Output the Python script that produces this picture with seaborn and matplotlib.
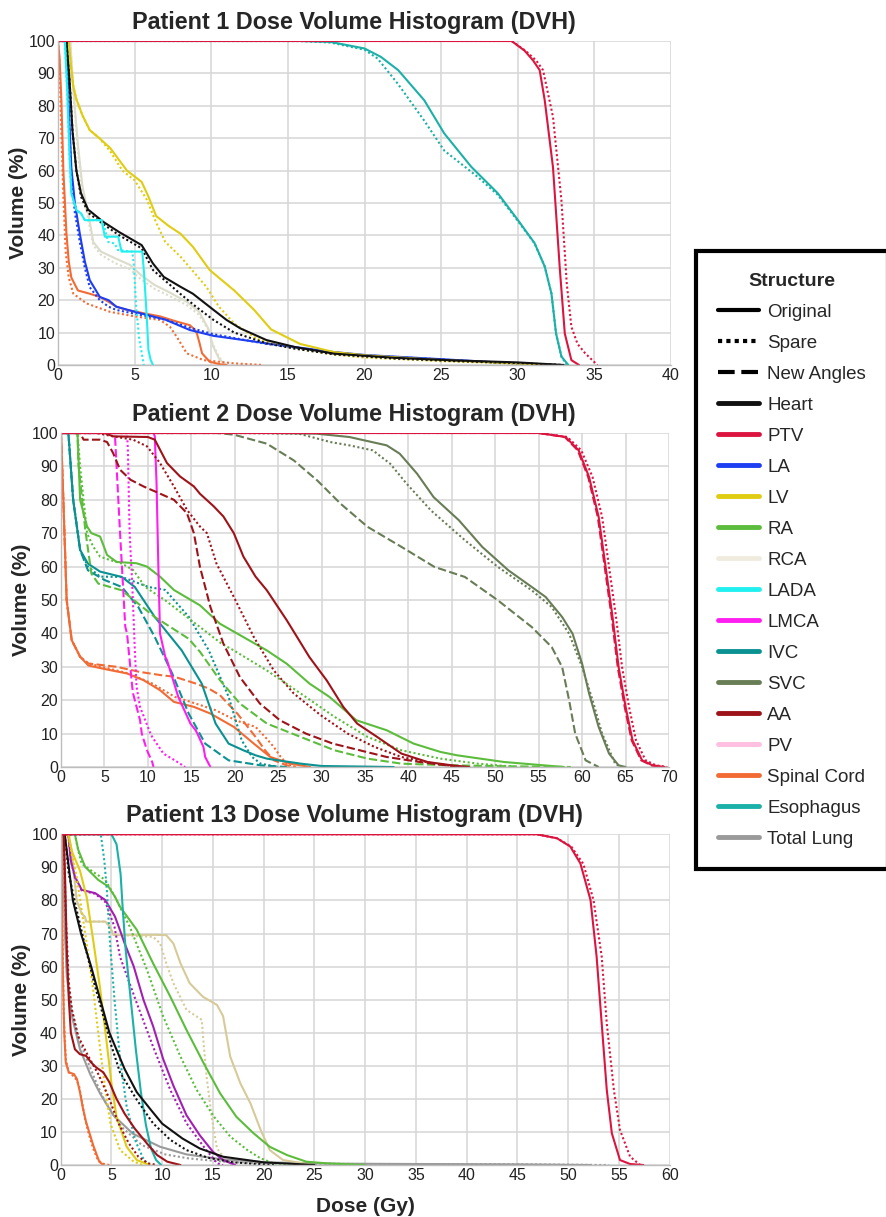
import matplotlib
matplotlib.use("Agg")
import matplotlib.pyplot as plt
import pandas as pd
import seaborn as sns
from matplotlib.lines import Line2D

# ---------------- Patient 1 ----------------
p1_heart_orig_d = [0, 0.55, 0.75, 0.95, 1.2, 1.5, 1.96, 2.95, 4.0, 5.46, 6.2, 6.9, 7.97, 8.8, 10.15, 11.0, 11.9, 13.6, 15.5, 18, 22, 26, 30, 33]
p1_heart_orig_v = [100, 100, 88, 72, 60, 53, 48, 44.2, 41, 37, 31.3, 27.2, 24.2, 22, 17, 13.9, 11.3, 7.7, 5.5, 3.5, 2.2, 1.4, 0.8, 0]
p1_heart_spare_d = [0, 0.55, 0.75, 0.95, 1.2, 1.5, 1.96, 2.95, 4.0, 5.46, 6.2, 7.97, 9.0, 10.15, 11.5, 13.6, 15.5, 18, 22, 26, 30, 33]
p1_heart_spare_v = [100, 100, 88, 72, 60, 52, 47, 43.5, 40, 36, 29.3, 22, 18, 13.9, 10, 6.7, 5, 3.3, 2, 1.2, 0.6, 0]
p1_ptv_orig_d = [0, 29.6, 30.45, 31.0, 31.43, 31.76, 32.3, 32.74, 33.07, 33.5, 34.0]
p1_ptv_orig_v = [100, 100, 97, 94, 91, 81.7, 61, 30, 9.7, 1.5, 0]
p1_ptv_spare_d = [0, 29.6, 30.5, 31.2, 31.65, 32.3, 32.85, 33.2, 33.5, 33.9, 34.4, 35.2]
p1_ptv_spare_v = [100, 100, 97, 94, 91, 76.6, 50.8, 25, 11.8, 6.5, 3.6, 0]
p1_la_orig_d = [0, 0.55, 0.7, 0.87, 1.1, 1.42, 1.75, 2.07, 2.73, 3.3, 3.8, 5.35, 7.0, 8.6, 10.15, 13.6, 17.8, 20, 25, 28.7, 32.6]
p1_la_orig_v = [100, 100, 80, 61, 50, 40.6, 32, 26.2, 21, 20, 18, 16, 14, 10.8, 9, 6.7, 4.1, 3.1, 1.8, 0.8, 0]
p1_la_spare_d = [0, 0.55, 0.7, 0.87, 1.1, 1.42, 1.75, 2.07, 2.73, 3.3, 3.8, 5.35, 7.0, 8.6, 10.15, 13.6, 17.8, 20, 25, 28.7, 32.4]
p1_la_spare_v = [100, 100, 78, 58, 47, 38, 30, 24, 20, 18, 17, 15.5, 14, 11.5, 9.5, 6.5, 4, 3, 1.7, 0.7, 0]
p1_lv_orig_d = [0, 0.7, 0.85, 1.0, 1.2, 1.6, 2.07, 2.7, 3.4, 4.5, 5.46, 5.9, 6.4, 7.2, 8.0, 8.8, 9.9, 11.5, 12.8, 13.9, 15.8, 18, 20, 25, 30, 32.5]
p1_lv_orig_v = [100, 100, 92, 86, 82, 77, 72.5, 70, 67, 60, 56.5, 52, 46, 43, 40.5, 36.5, 29.3, 23, 17, 11, 6.5, 4, 3, 1.5, 0.5, 0]
p1_lv_spare_d = [0, 0.7, 0.85, 1.0, 1.2, 1.6, 2.07, 2.7, 3.4, 4.2, 5.0, 5.4, 5.8, 6.4, 7.0, 8.0, 8.8, 9.7, 10.5, 11.5, 13, 15, 18, 20, 25, 30, 32.5]
p1_lv_spare_v = [100, 100, 92, 86, 82, 77, 72.5, 70, 66, 60, 57, 54, 51, 44, 38, 33.4, 29, 24, 18, 12.8, 8, 5.5, 3.2, 2.3, 1.2, 0.4, 0]
p1_rca_orig_d = [0, 0.8, 1.0, 1.3, 1.6, 1.97, 2.3, 2.8, 3.7, 4.7, 5.4, 6.3, 7.2, 8.4, 9.2, 9.8, 10.1, 10.5, 10.8, 11.0]
p1_rca_orig_v = [100, 100, 85, 68, 55, 47, 38, 35, 33, 30.9, 27.8, 24.7, 22.6, 19.5, 16.5, 11.3, 6, 2, 0.5, 0]
p1_rca_spare_d = [0, 0.8, 1.0, 1.3, 1.6, 1.97, 2.3, 2.8, 3.7, 4.7, 5.4, 6.3, 7.2, 8.4, 9.2, 9.8, 10.1, 10.5, 10.8, 11.0]
p1_rca_spare_v = [100, 100, 84, 66, 53, 45, 37, 34, 31.5, 29.5, 26.5, 23.5, 21.5, 18.5, 15.5, 11, 6.5, 2.5, 0.8, 0]
p1_lada_orig_d = [0, 0.45, 0.6, 0.75, 0.87, 1.2, 1.5, 1.75, 2.84, 3.06, 3.93, 4.15, 5.5, 5.62, 5.79, 5.9, 6.05, 6.2]
p1_lada_orig_v = [100, 100, 85, 65, 53, 47.8, 46.8, 44.7, 44.7, 39.6, 39.6, 35, 35, 28, 15, 4.6, 1.5, 0]
p1_lada_spare_d = [0, 0.45, 0.6, 0.75, 0.87, 1.2, 1.5, 1.75, 2.84, 3.06, 3.27, 3.7, 3.9, 4.85, 4.95, 5.1, 5.3, 5.6]
p1_lada_spare_v = [100, 100, 85, 65, 53, 47.8, 46.8, 44.7, 44.7, 42, 38, 37.5, 35.5, 35, 31, 18, 8, 0]
p1_cord_orig_d = [0, 0.1, 0.22, 0.35, 0.55, 0.7, 0.87, 1.3, 2.07, 2.73, 3.3, 3.8, 4.5, 5.57, 6.66, 7.75, 8.6, 8.9, 9.06, 9.25, 9.4, 9.9, 10.6, 11.0]
p1_cord_orig_v = [100, 95, 81.7, 60, 40.6, 32, 27, 23, 22, 21, 19.5, 18, 17, 16, 15, 13.4, 12.3, 11, 9.8, 6.5, 3.6, 1, 0.2, 0]
p1_cord_spare_d = [0, 0.1, 0.2, 0.35, 0.5, 0.7, 1.0, 1.86, 3.4, 5.0, 6.66, 7.3, 7.75, 8.4, 9.5, 11.5, 13.4]
p1_cord_spare_v = [100, 93, 75, 52, 35, 27, 22, 19, 16.4, 15, 13.9, 11.8, 8.7, 3.6, 1.5, 0.5, 0]
p1_eso_orig_d = [0, 15.8, 17.8, 20, 21.07, 22.2, 23.9, 25.2, 26.96, 28.7, 30.0, 31.1, 31.76, 32.2, 32.5, 32.85, 33.3]
p1_eso_orig_v = [100, 100, 99.7, 97.7, 95.1, 91, 81.7, 71.5, 61.2, 53, 44.8, 37.6, 30.4, 22, 9.7, 2.6, 0]
p1_eso_spare_d = [0, 15.8, 17.8, 20, 20.85, 22.16, 23.9, 25.2, 27.4, 28.7, 30.0, 31.1, 31.76, 32.2, 32.5, 32.85, 33.2]
p1_eso_spare_v = [100, 100, 99.5, 97.3, 94.6, 86.9, 75.4, 66.2, 58, 52.5, 44.5, 37.5, 30.4, 22, 9.7, 2.6, 0]

# ---------------- Patient 2 ----------------
p2_ptv_orig_d = [0, 55, 58.1, 59.6, 60.8, 61.9, 62.7, 63.5, 64.2, 65, 65.8, 66.9, 68.1, 69.5]
p2_ptv_orig_v = [100, 100, 98.8, 94.8, 86.8, 74.9, 59.9, 44.9, 29.9, 18, 8, 2, 0.5, 0]
p2_ptv_spare_d = [0, 55, 58.3, 59.9, 61.2, 62.3, 63.1, 63.9, 64.6, 65.4, 66.2, 67.3, 68.5, 69.8]
p2_ptv_spare_v = [100, 100, 98.8, 94.8, 86.8, 74.9, 59.9, 44.9, 29.9, 18, 8, 2, 0.5, 0]
p2_ptv_new_d = [0, 55, 58.0, 59.5, 60.7, 61.8, 62.6, 63.4, 64.1, 64.9, 65.7, 66.8, 68.0, 69.0]
p2_ptv_new_v = [100, 100, 98.8, 94.8, 86.8, 74.9, 59.9, 44.9, 29.9, 18, 8, 2, 0.5, 0]
p2_svc_orig_d = [0, 24, 29.4, 33.2, 37.5, 39.0, 41.0, 42.9, 45.8, 48.5, 51.5, 54.2, 55.8, 57.7, 58.9, 60, 60.8, 61.9, 63.1, 64.2, 65]
p2_svc_orig_v = [100, 100, 99.8, 98.8, 96.3, 93.8, 87.8, 80.8, 73.9, 65.9, 58.9, 53.9, 50.9, 44.9, 39.9, 30.9, 22, 12, 4, 0.5, 0]
p2_svc_spare_d = [0, 20, 27.4, 31, 33.2, 35.9, 37.9, 39.8, 42.6, 46.5, 50.3, 54.2, 56.5, 58.5, 60, 61.2, 62.3, 63.8, 64.5]
p2_svc_spare_v = [100, 100, 99.8, 97.3, 96.3, 94.8, 90.8, 84.8, 76.8, 67.9, 59.9, 52.9, 47.9, 39.9, 29.9, 20, 10, 1, 0]
p2_svc_new_d = [0, 18, 19.9, 23.7, 26.8, 29.5, 32.2, 35.3, 39.2, 43, 46.5, 50.3, 54.2, 56.5, 57.7, 58.5, 59.2, 60.4, 61.9]
p2_svc_new_v = [100, 100, 99.5, 96.8, 91.8, 85.8, 78.8, 71.9, 65.9, 59.9, 56.9, 49.9, 41.9, 35.9, 29.9, 20, 10, 2, 0]
p2_aa_orig_d = [0, 5.0, 6.0, 10.0, 10.8, 11.0, 12.2, 13.7, 15.3, 16.0, 17.6, 18.7, 19.9, 21.0, 22.4, 23.7, 26, 28.6, 30.6, 32.5, 34.1, 36.4, 39.2, 42.2, 45, 47]
p2_aa_orig_v = [100, 100, 99, 98.8, 98, 97, 91, 87, 84, 81.8, 78, 75, 70, 63, 57, 52.9, 43.9, 32.9, 25.9, 18, 13, 9, 4, 1.5, 0.5, 0]
p2_aa_spare_d = [0, 4.1, 6.0, 8.3, 9.9, 11.4, 13.0, 14.5, 16.0, 16.8, 17.9, 19.9, 22.2, 24.5, 26.8, 29.9, 33, 36.1, 39.2, 43, 46]
p2_aa_spare_v = [100, 100, 99, 98, 96, 91, 84, 77, 72, 70, 60.9, 50.9, 38.9, 28.9, 22, 15.5, 10, 6, 3, 1, 0]
p2_aa_new_d = [0, 2.2, 2.6, 4.5, 5.3, 6.0, 6.8, 8.0, 9.5, 11.0, 13.0, 14.5, 15.3, 16.0, 17.2, 18.7, 20.6, 22.9, 25.2, 28.2, 31.3, 34.4, 37.5, 41.3, 46]
p2_aa_new_v = [100, 100, 98, 98, 97.3, 94, 89, 86, 84, 82.3, 80, 76, 70, 59.9, 47.9, 36.9, 26.9, 19, 14, 10, 7, 5, 3, 1.5, 0]
p2_ra_orig_d = [0, 1.9, 2.2, 3.0, 3.5, 4.5, 5.3, 6.4, 8.7, 9.9, 11.4, 13.0, 16.0, 18.3, 21, 23.7, 26, 28.6, 30.9, 32.9, 34, 37.5, 40.6, 43.7, 45.6, 51, 57.9]
p2_ra_orig_v = [100, 100, 80, 72, 70, 69, 63.5, 61.4, 61, 60, 57, 53, 48.4, 42.9, 38.9, 34.9, 30.9, 25, 21, 16.5, 14, 11, 7, 4.5, 3.5, 1.5, 0]
p2_ra_spare_d = [0, 1.9, 2.2, 3.0, 3.7, 4.5, 5.6, 7.0, 8.3, 9.7, 12.0, 15.5, 18.5, 19.9, 23.7, 27.6, 31.5, 35.3, 39.2, 43.7, 48, 52.6]
p2_ra_spare_v = [100, 100, 90, 70, 66, 63, 62, 60.9, 59, 53.9, 49.9, 42.9, 36.9, 34.9, 28.9, 22, 15, 9, 5, 2.5, 1, 0]
p2_ra_new_d = [0, 1.9, 2.0, 2.8, 3.5, 4.3, 7.0, 8.9, 10.8, 14.7, 16.0, 18.3, 20.6, 23.7, 27.6, 31.5, 35.3, 39.2, 45, 52, 58.7]
p2_ra_new_v = [100, 100, 90.8, 70.9, 57.9, 54.9, 52.9, 48.9, 44.9, 38.4, 34.5, 26, 19, 13, 9, 5, 2.5, 1, 0.5, 0.2, 0]
p2_ivc_orig_d = [0, 0.85, 1.4, 2.2, 3.1, 4.5, 7.0, 8.5, 10.8, 13.9, 16.2, 17.8, 19.3, 21, 22.4, 23.7, 27.6, 30, 38.3]
p2_ivc_orig_v = [100, 100, 80, 65, 60.9, 58.5, 56.9, 53.9, 44.9, 34.9, 25, 13, 7, 5, 3.5, 2.5, 1, 0.3, 0]
p2_ivc_spare_d = [0, 0.85, 1.4, 2.2, 3.1, 4.5, 7.0, 10.07, 12, 14.7, 17, 19.3, 20.8, 22, 23, 25]
p2_ivc_spare_v = [100, 100, 80, 65, 60, 57, 56.9, 53.9, 53, 45, 35, 21, 8, 3, 1, 0]
p2_ivc_new_d = [0, 0.85, 1.4, 2.2, 3.1, 5.0, 7.0, 8.9, 10.8, 12.8, 14.7, 16.6, 19.3, 23, 26]
p2_ivc_new_v = [100, 100, 80, 65, 58.9, 56, 53.9, 47.9, 38.9, 28, 16, 7, 2, 0.5, 0]
p2_lmca_orig_d = [0, 10.65, 10.8, 11.0, 11.2, 11.4, 12.0, 12.2, 13.5, 14.9, 15.5, 15.7, 16.4, 16.6, 17.2]
p2_lmca_orig_v = [100, 100, 99, 85, 60.9, 40, 33, 32, 21, 13, 11, 10, 6, 3, 0]
p2_lmca_spare_d = [0, 7.6, 7.7, 7.9, 8.2, 8.5, 8.7, 9.1, 10.3, 10.5, 11.8, 13.1, 13.7, 14.3]
p2_lmca_spare_v = [100, 100, 95, 70, 55, 35, 24, 18, 10, 9, 4, 2, 1, 0]
p2_lmca_new_d = [0, 6.2, 6.4, 6.8, 7.4, 7.6, 8.2, 8.3, 9.1, 9.3, 9.9, 10.5, 10.65]
p2_lmca_new_v = [100, 100, 90, 70, 42, 40, 24, 22, 14, 10, 5, 1.5, 0]
p2_cord_orig_d = [0, 0.27, 0.65, 1.23, 2.2, 3.15, 4.9, 7.6, 9.5, 11.4, 13.0, 15.3, 17.2, 19.9, 22.2, 24.1, 26.4, 28.7]
p2_cord_orig_v = [100, 80, 50, 38, 33, 30.4, 29.4, 28, 26, 23, 19.5, 18, 16, 12, 7, 3, 1, 0]
p2_cord_spare_d = [0, 0.27, 0.65, 1.23, 2.2, 3.15, 7.8, 10.5, 13.1, 15.5, 17.8, 20.1, 22.4, 23.5, 24.5, 25.3, 26, 27]
p2_cord_spare_v = [100, 80, 50, 38, 33, 31, 28, 25, 21, 19, 17, 14, 12, 9, 6, 3, 1, 0]
p2_cord_new_d = [0, 0.27, 0.65, 1.23, 2.2, 3.15, 6.4, 9.0, 11.5, 13.1, 15.5, 17.0, 18.3, 20.3, 22.4, 23.5, 24.5, 26, 27]
p2_cord_new_v = [100, 80, 50, 38, 33, 31, 30, 28.5, 27.5, 27, 25, 23.5, 21.5, 16, 9, 5, 2, 0.5, 0]

# ---------------- Patient 13 ----------------
p13_ptv_orig_d = [0, 46.9, 48.9, 50.2, 51.2, 52.2, 52.8, 53.3, 53.8, 54.3, 55.1, 56.1, 57.4]
p13_ptv_orig_v = [100, 100, 98.8, 96.3, 91.2, 80.1, 63, 42.8, 22.7, 9.6, 1.5, 0.3, 0]
p13_ptv_spare_d = [0, 46.9, 48.9, 50.3, 51.5, 52.5, 53.3, 53.8, 54.5, 55.1, 56.1, 57.1]
p13_ptv_spare_v = [100, 100, 98.8, 96.3, 91, 80, 63, 42.8, 22.7, 10.6, 2.5, 0]
p13_eso_orig_d = [0, 5.0, 5.5, 5.9, 6.1, 6.4, 6.9, 7.4, 7.9, 8.4, 8.9, 9.4, 9.9]
p13_eso_orig_v = [100, 100, 97, 88, 78, 65, 50, 35, 22, 12, 5, 1.5, 0]
p13_eso_spare_d = [0, 3.95, 4.3, 4.55, 4.86, 5.3, 5.85, 6.5, 7.4, 8.2, 8.8]
p13_eso_spare_v = [100, 100, 92, 83, 67, 50, 32, 17.6, 7, 1.5, 0]
p13_ra_orig_d = [0, 1.4, 1.73, 2.4, 3.7, 4.7, 5.35, 5.84, 7.5, 9.1, 10.8, 12.4, 14.1, 15.7, 17.3, 19.0, 20.6, 22.3, 24.2, 26.2, 30]
p13_ra_orig_v = [100, 100, 95.3, 90.2, 86.2, 84.2, 81.1, 78.1, 71.1, 61, 50.9, 40.8, 30.7, 21.7, 14.6, 9.6, 5.5, 3, 1, 0.5, 0]
p13_ra_spare_d = [0, 1.4, 1.73, 2.07, 3.4, 4.4, 5.35, 6.0, 6.8, 8.5, 10.1, 11.8, 13.4, 15.1, 16.7, 18.4, 19.7, 21, 24]
p13_ra_spare_v = [100, 100, 95, 91.1, 88.2, 86.2, 81.1, 77, 72.1, 59, 44.9, 32.8, 22.7, 14.6, 8.6, 4.5, 2, 0.5, 0]
p13_purple_orig_d = [0, 0.75, 1.0, 1.4, 2.07, 3.4, 4.4, 5.35, 5.84, 6.3, 7.2, 8.15, 9.1, 10.1, 11.1, 12.4, 13.7, 15.0, 16.0, 17.2]
p13_purple_orig_v = [100, 100, 92, 87.2, 83.2, 82.2, 80.1, 75.1, 71, 67, 60, 50, 42, 32, 24, 15, 9, 4, 1.5, 0]
p13_purple_spare_d = [0, 0.75, 1.0, 1.4, 2.07, 3.4, 4.4, 5.3, 5.84, 7.5, 9.1, 10.8, 12.4, 14.1, 15.4, 16.0]
p13_purple_spare_v = [100, 100, 92, 87, 83, 82, 79.5, 72, 63, 48.9, 35.8, 22.7, 12.6, 5.5, 0.5, 0]
p13_tan_orig_d = [0, 0.8, 1.08, 1.58, 2.07, 2.4, 2.5, 4.4, 4.86, 5.2, 9.3, 10.4, 11.1, 11.8, 12.7, 14.0, 15.4, 16.0, 16.7, 17.7, 18.7, 19.7, 20.6, 21.9, 23.9, 25]
p13_tan_orig_v = [100, 100, 95, 80, 76, 75, 73.6, 73.6, 72, 69.6, 69.6, 69.5, 67, 61, 55, 50.9, 48.4, 45, 32.8, 24.7, 18.6, 10.6, 4.5, 1.5, 0.5, 0]
p13_tan_spare_d = [0, 0.8, 1.08, 1.58, 2.07, 2.4, 2.5, 4.4, 4.86, 5.2, 9.1, 9.8, 10.4, 11.1, 12.4, 13.4, 13.9, 14.1, 14.4, 14.9, 15.4, 16.4, 17]
p13_tan_spare_v = [100, 100, 95, 80, 76, 75, 73.6, 73.6, 72, 69.6, 69, 67, 61, 55, 46.9, 44.9, 43.9, 36, 26, 14, 5, 1, 0]
p13_heart_orig_d = [0, 0.4, 0.8, 1.2, 2.0, 3.0, 3.9, 4.8, 6.3, 7.5, 8.8, 10.0, 12.0, 13.7, 16.0, 20.0, 25]
p13_heart_orig_v = [100, 100, 90, 80, 70, 60, 50, 40, 29, 22, 17, 12.5, 8, 5, 2.5, 0.8, 0]
p13_heart_spare_d = [0, 0.4, 0.8, 1.5, 2.5, 3.3, 4.2, 5.0, 5.84, 7.5, 9.1, 10.8, 12.4, 14.5, 17, 21]
p13_heart_spare_v = [100, 100, 88, 78, 65, 55, 45, 36, 28, 19.7, 12.6, 7.6, 4.5, 2.2, 0.8, 0]
p13_lv_orig_d = [0, 0.75, 1.08, 1.9, 2.56, 3.2, 3.9, 4.5, 5.0, 5.5, 6.5, 7.5, 8.8]
p13_lv_orig_v = [100, 100, 95, 89, 81, 68, 53, 37.8, 24.7, 14.6, 5.5, 1.5, 0]
p13_lv_spare_d = [0, 0.75, 1.08, 1.58, 2.56, 3.2, 3.9, 4.4, 4.9, 5.85, 7.2, 8.1]
p13_lv_spare_v = [100, 100, 94, 87, 67, 53, 34.8, 22.7, 12.6, 4.5, 1, 0]
p13_aa_orig_d = [0, 0.3, 0.45, 0.6, 0.8, 1.0, 1.4, 1.9, 2.5, 3.0, 3.5, 4.2, 4.8, 5.5, 6.3, 7.3, 8.5, 9.5, 10.5, 11.8]
p13_aa_orig_v = [100, 100, 85, 65, 50, 40, 35, 33.5, 33, 31, 29.5, 28, 25, 20, 15.5, 11, 6.5, 3, 1, 0]
p13_aa_spare_d = [0, 0.3, 0.5, 0.8, 1.1, 1.7, 2.7, 3.7, 4.7, 5.7, 6.7, 7.65, 8.6, 9.5]
p13_aa_spare_v = [100, 100, 75, 55, 47, 39, 33, 27.5, 20.7, 12.6, 6.6, 2.5, 0.5, 0]
p13_lung_orig_d = [0, 0.2, 0.4, 0.6, 1.1, 1.9, 2.9, 3.9, 5.2, 7.1, 9.8, 12.4, 15.7, 20.3, 27, 35, 45, 52.2]
p13_lung_orig_v = [100, 100, 72, 57, 45, 35, 27.5, 21.5, 15, 9.5, 5.5, 3.2, 1.8, 0.8, 0.4, 0.3, 0.2, 0]
p13_lung_spare_d = [0, 0.2, 0.4, 0.6, 1.1, 1.9, 2.7, 3.5, 4.4, 6.0, 8.0, 10.3, 12.6, 16, 20, 30, 45, 54]
p13_lung_spare_v = [100, 100, 74, 59, 47, 37, 31, 25, 19, 11.5, 6, 3.2, 2, 1, 0.5, 0.3, 0.2, 0]
p13_cord_orig_d = [0, 0.05, 0.2, 0.35, 0.5, 0.8, 1.3, 1.6, 1.9, 2.2, 2.5, 2.8, 3.2, 3.5, 3.8, 4.2]
p13_cord_orig_v = [100, 100, 60, 40, 31, 28, 27.5, 26, 22, 17, 13, 10, 6, 3.5, 1, 0]
p13_cord_spare_d = [0, 0.05, 0.15, 0.3, 0.5, 0.8, 1.2, 1.5, 1.8, 2.1, 2.4, 2.8, 3.2, 3.6, 4.0, 4.8]
p13_cord_spare_v = [100, 100, 75, 45, 32, 28, 27, 26, 24, 19, 14, 9, 5, 2, 0.5, 0]

patients = ["Patient 1", "Patient 2", "Patient 13"]
x_max = [40, 70, 60]
plans = ["Original", "Spare", "New Angles"]
legend_structures = ["Heart", "PTV", "LA", "LV", "RA", "RCA", "LADA", "LMCA", "IVC", "SVC",
                     "AA", "PV", "Spinal Cord", "Esophagus", "Total Lung"]

palette = {
    "Heart": "#111111", "PTV": "#dc1440", "LA": "#1e3ef2", "LV": "#e0cc12",
    "RA": "#5cbd3c", "RCA": "#dcdccb", "LADA": "#22f0f0", "LMCA": "#ff1ef0",
    "IVC": "#0a9292", "SVC": "#687d56", "AA": "#9e1319", "PV": "#ffbfe0",
    "Spinal Cord": "#f26b35", "Esophagus": "#1bb0a8", "Total Lung": "#9a9a9a",
    "Unlabelled purple": "#a21fb2", "Unlabelled tan": "#d6cb98",
}
legend_colors = dict(palette, RCA="#efebdf")
dash_map = {"Original": "", "Spare": (1, 1.2), "New Angles": (4, 1.6)}

curves = [
    ("Patient 1", "RCA", "Original", p1_rca_orig_d, p1_rca_orig_v),
    ("Patient 1", "RCA", "Spare", p1_rca_spare_d, p1_rca_spare_v),
    ("Patient 1", "Esophagus", "Original", p1_eso_orig_d, p1_eso_orig_v),
    ("Patient 1", "Esophagus", "Spare", p1_eso_spare_d, p1_eso_spare_v),
    ("Patient 1", "Spinal Cord", "Original", p1_cord_orig_d, p1_cord_orig_v),
    ("Patient 1", "Spinal Cord", "Spare", p1_cord_spare_d, p1_cord_spare_v),
    ("Patient 1", "LA", "Original", p1_la_orig_d, p1_la_orig_v),
    ("Patient 1", "LA", "Spare", p1_la_spare_d, p1_la_spare_v),
    ("Patient 1", "LV", "Original", p1_lv_orig_d, p1_lv_orig_v),
    ("Patient 1", "LV", "Spare", p1_lv_spare_d, p1_lv_spare_v),
    ("Patient 1", "Heart", "Original", p1_heart_orig_d, p1_heart_orig_v),
    ("Patient 1", "Heart", "Spare", p1_heart_spare_d, p1_heart_spare_v),
    ("Patient 1", "LADA", "Original", p1_lada_orig_d, p1_lada_orig_v),
    ("Patient 1", "LADA", "Spare", p1_lada_spare_d, p1_lada_spare_v),
    ("Patient 1", "PTV", "Original", p1_ptv_orig_d, p1_ptv_orig_v),
    ("Patient 1", "PTV", "Spare", p1_ptv_spare_d, p1_ptv_spare_v),

    ("Patient 2", "Spinal Cord", "Original", p2_cord_orig_d, p2_cord_orig_v),
    ("Patient 2", "Spinal Cord", "Spare", p2_cord_spare_d, p2_cord_spare_v),
    ("Patient 2", "Spinal Cord", "New Angles", p2_cord_new_d, p2_cord_new_v),
    ("Patient 2", "IVC", "Original", p2_ivc_orig_d, p2_ivc_orig_v),
    ("Patient 2", "IVC", "Spare", p2_ivc_spare_d, p2_ivc_spare_v),
    ("Patient 2", "IVC", "New Angles", p2_ivc_new_d, p2_ivc_new_v),
    ("Patient 2", "RA", "Original", p2_ra_orig_d, p2_ra_orig_v),
    ("Patient 2", "RA", "Spare", p2_ra_spare_d, p2_ra_spare_v),
    ("Patient 2", "RA", "New Angles", p2_ra_new_d, p2_ra_new_v),
    ("Patient 2", "LMCA", "Original", p2_lmca_orig_d, p2_lmca_orig_v),
    ("Patient 2", "LMCA", "Spare", p2_lmca_spare_d, p2_lmca_spare_v),
    ("Patient 2", "LMCA", "New Angles", p2_lmca_new_d, p2_lmca_new_v),
    ("Patient 2", "AA", "Original", p2_aa_orig_d, p2_aa_orig_v),
    ("Patient 2", "AA", "Spare", p2_aa_spare_d, p2_aa_spare_v),
    ("Patient 2", "AA", "New Angles", p2_aa_new_d, p2_aa_new_v),
    ("Patient 2", "SVC", "Original", p2_svc_orig_d, p2_svc_orig_v),
    ("Patient 2", "SVC", "Spare", p2_svc_spare_d, p2_svc_spare_v),
    ("Patient 2", "SVC", "New Angles", p2_svc_new_d, p2_svc_new_v),
    ("Patient 2", "PTV", "Original", p2_ptv_orig_d, p2_ptv_orig_v),
    ("Patient 2", "PTV", "Spare", p2_ptv_spare_d, p2_ptv_spare_v),
    ("Patient 2", "PTV", "New Angles", p2_ptv_new_d, p2_ptv_new_v),

    ("Patient 13", "Total Lung", "Original", p13_lung_orig_d, p13_lung_orig_v),
    ("Patient 13", "Total Lung", "Spare", p13_lung_spare_d, p13_lung_spare_v),
    ("Patient 13", "Unlabelled tan", "Original", p13_tan_orig_d, p13_tan_orig_v),
    ("Patient 13", "Unlabelled tan", "Spare", p13_tan_spare_d, p13_tan_spare_v),
    ("Patient 13", "RA", "Original", p13_ra_orig_d, p13_ra_orig_v),
    ("Patient 13", "RA", "Spare", p13_ra_spare_d, p13_ra_spare_v),
    ("Patient 13", "Unlabelled purple", "Original", p13_purple_orig_d, p13_purple_orig_v),
    ("Patient 13", "Unlabelled purple", "Spare", p13_purple_spare_d, p13_purple_spare_v),
    ("Patient 13", "Esophagus", "Original", p13_eso_orig_d, p13_eso_orig_v),
    ("Patient 13", "Esophagus", "Spare", p13_eso_spare_d, p13_eso_spare_v),
    ("Patient 13", "LV", "Original", p13_lv_orig_d, p13_lv_orig_v),
    ("Patient 13", "LV", "Spare", p13_lv_spare_d, p13_lv_spare_v),
    ("Patient 13", "Heart", "Original", p13_heart_orig_d, p13_heart_orig_v),
    ("Patient 13", "Heart", "Spare", p13_heart_spare_d, p13_heart_spare_v),
    ("Patient 13", "AA", "Original", p13_aa_orig_d, p13_aa_orig_v),
    ("Patient 13", "AA", "Spare", p13_aa_spare_d, p13_aa_spare_v),
    ("Patient 13", "Spinal Cord", "Original", p13_cord_orig_d, p13_cord_orig_v),
    ("Patient 13", "Spinal Cord", "Spare", p13_cord_spare_d, p13_cord_spare_v),
    ("Patient 13", "PTV", "Original", p13_ptv_orig_d, p13_ptv_orig_v),
    ("Patient 13", "PTV", "Spare", p13_ptv_spare_d, p13_ptv_spare_v),
]

rows = []
for k, (pat, struct, plan, d, v) in enumerate(curves):
    for x, y in zip(d, v):
        rows.append({"patient": pat, "structure": struct, "plan": plan,
                     "curve": k, "dose": x, "volume": y})
df = pd.DataFrame(rows)

sns.set_style("white")
plt.rcParams["font.family"] = ["Liberation Sans", "DejaVu Sans"]

fig = plt.figure(figsize=(8.86, 12.17), dpi=100)
W, H = 886.0, 1217.0
boxes = [(58, 671, 41, 365), (61, 669, 433, 767), (60.7, 669.7, 834.3, 1165)]
axes = []
for (l, r, t, b) in boxes:
    axes.append(fig.add_axes([l / W, 1 - b / H, (r - l) / W, (b - t) / H]))

for i, (ax, pat) in enumerate(zip(axes, patients)):
    sub = df[df["patient"] == pat]
    sns.lineplot(data=sub, x="dose", y="volume", hue="structure", style="plan",
                 units="curve", estimator=None, sort=False, palette=palette,
                 dashes=dash_map, linewidth=1.5, legend=False, ax=ax)
    ax.set_xlim(0, x_max[i])
    ax.set_ylim(0, 100)
    ax.set_xticks(range(0, x_max[i] + 1, 5))
    ax.set_yticks(range(0, 101, 10))
    ax.grid(True, color="#d6d6d6", linewidth=1.1)
    ax.set_axisbelow(True)
    ax.tick_params(length=0, labelsize=11.5, pad=2, colors="#222222")
    for s in ["top", "right"]:
        ax.spines[s].set_visible(False)
    for s in ["left", "bottom"]:
        ax.spines[s].set_color("#bdbdbd")
        ax.spines[s].set_linewidth(1.0)
    ax.set_title(f"{pat} Dose Volume Histogram (DVH)", fontsize=16.8,
                 fontweight="bold", pad=8.5, x=0.482)
    ax.set_ylabel("Volume (%)", fontsize=15, fontweight="bold", labelpad=0.5)
    ax.set_xlabel("")

axes[2].set_xlabel("Dose (Gy)", fontsize=15, fontweight="bold", labelpad=10)

handles = [
    Line2D([], [], color="black", lw=3, linestyle="-"),
    Line2D([], [], color="black", lw=3, dashes=(1, 1)),
    Line2D([], [], color="black", lw=3, dashes=(4, 1.6)),
]
labels = list(plans)
for s in legend_structures:
    handles.append(Line2D([], [], color=legend_colors[s], lw=3.5))
    labels.append(s)

leg = fig.legend(handles, labels, title="Structure", loc="upper left",
                 bbox_to_anchor=(696 / W, 1 - 251 / H), borderaxespad=0,
                 fontsize=13.5,
                 title_fontproperties={"weight": "bold", "size": 14},
                 handlelength=2.2, handletextpad=0.45, labelspacing=0.74,
                 borderpad=1.15, frameon=True, fancybox=False, framealpha=1)
leg.get_frame().set_edgecolor("black")
leg.get_frame().set_linewidth(3)

fig.savefig("out.png", dpi=100, facecolor="white")
